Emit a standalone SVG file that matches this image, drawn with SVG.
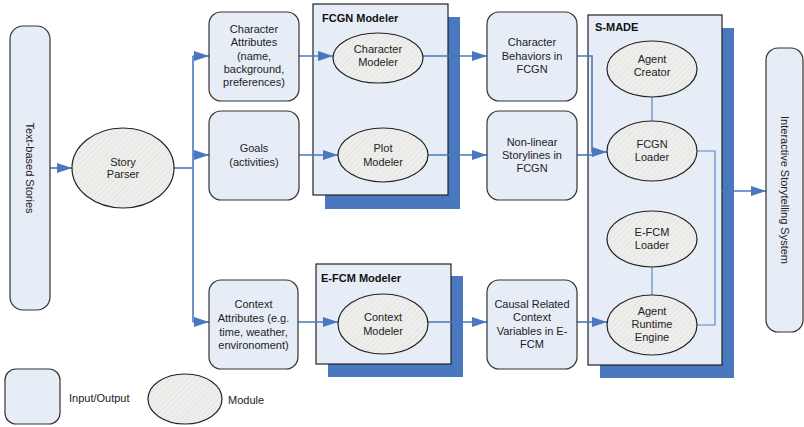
<svg xmlns="http://www.w3.org/2000/svg" width="804" height="427" viewBox="0 0 804 427">
  <style>
    .io { fill: #e7edf7; stroke: #333; stroke-width: 1.2; }
    .mod { fill: url(#hatch); stroke: #222; stroke-width: 1.2; }
    .grp { fill: #e7edf7; stroke: #222; stroke-width: 1.2; }
    .shadow { fill: #4a78bf; }
    .t { font-family: "Liberation Sans", Arial, sans-serif; font-size: 11px; fill: #222; text-anchor: middle; }
    .lbl { font-family: "Liberation Sans", Arial, sans-serif; font-size: 11px; fill: #222; }
    .title { font-family: "Liberation Sans", Arial, sans-serif; font-size: 11px; font-weight: bold; fill: #111; }
    .c { fill: none; stroke: #4a78bf; stroke-width: 1.6; }
    .thin { fill: none; stroke: #5a86c6; stroke-width: 1.2; }
  </style>
  <defs>
    <pattern id="hatch" width="4" height="4" patternUnits="userSpaceOnUse" patternTransform="rotate(45)">
      <rect width="4" height="4" fill="#eeeeee"/>
      <line x1="0" y1="0" x2="0" y2="4" stroke="#e0e0d2" stroke-width="1.2"/>
    </pattern>
    <marker id="arr" markerWidth="15" markerHeight="10" refX="15" refY="5" orient="auto" markerUnits="userSpaceOnUse">
      <path d="M0,0 L15,5 L0,10 Z" fill="#4a78bf"/>
    </marker>
  </defs>

  <!-- group shadows and containers -->
  <g id="fcgn-modeler">
    <rect class="shadow" x="325" y="17" width="135" height="192"/>
    <rect class="grp" x="313" y="4" width="135" height="191"/>
    <text class="title" x="322" y="22">FCGN Modeler</text>
  </g>
  <g id="efcm-modeler">
    <rect class="shadow" x="328" y="276" width="135" height="101"/>
    <rect class="grp" x="316" y="264" width="135" height="100"/>
    <text class="title" x="321" y="282">E-FCM Modeler</text>
  </g>
  <g id="s-made">
    <rect class="shadow" x="600" y="28" width="134" height="350"/>
    <rect class="grp" x="588" y="15" width="134" height="350"/>
    <text class="title" x="595" y="31">S-MADE</text>
  </g>

  <!-- connectors -->
  <g id="connectors">
    <path class="c" d="M50,168 H72" marker-end="url(#arr)"/>
    <path class="c" d="M174,168 H193"/>
    <path class="c" d="M193,56 V322"/>
    <path class="c" d="M193,56 H209" marker-end="url(#arr)"/>
    <path class="c" d="M193,155 H209" marker-end="url(#arr)"/>
    <path class="c" d="M193,322 H209" marker-end="url(#arr)"/>
    <path class="c" d="M299,56 H333" marker-end="url(#arr)"/>
    <path class="c" d="M299,155 H338" marker-end="url(#arr)"/>
    <path class="c" d="M298,322 H338" marker-end="url(#arr)"/>
    <path class="c" d="M423,56 H487" marker-end="url(#arr)"/>
    <path class="c" d="M428,155 H487" marker-end="url(#arr)"/>
    <path class="c" d="M428,322 H487" marker-end="url(#arr)"/>
    <path class="c" d="M577,56 H592 V152 H607" marker-end="url(#arr)"/>
    <path class="c" d="M577,155 H592"/>
    <path class="c" d="M577,322 H607" marker-end="url(#arr)"/>
    <path class="thin" d="M652,97 V121"/>
    <path class="thin" d="M652,267 V295"/>
    <path class="thin" d="M697,151 H715 V325 H697"/>
    <path class="c" d="M722,191 H766" marker-end="url(#arr)"/>
  </g>

  <!-- nodes -->
  <g id="text-based-stories">
    <rect class="io" x="10" y="26" width="40" height="284" rx="13"/>
    <text class="t" transform="translate(30,168) rotate(90)" y="4">Text-based Stories</text>
  </g>
  <g id="story-parser">
    <ellipse class="mod" cx="123" cy="168" rx="51" ry="40"/>
    <text class="t" x="123" y="166">Story</text>
    <text class="t" x="123" y="178">Parser</text>
  </g>
  <g id="character-attributes">
    <rect class="io" x="209" y="12" width="90" height="89" rx="12"/>
    <text class="t" x="254" y="33">Character</text>
    <text class="t" x="254" y="46">Attributes</text>
    <text class="t" x="254" y="60">(name,</text>
    <text class="t" x="254" y="73">background,</text>
    <text class="t" x="254" y="86">preferences)</text>
  </g>
  <g id="goals">
    <rect class="io" x="209" y="111" width="90" height="89" rx="12"/>
    <text class="t" x="254" y="152">Goals</text>
    <text class="t" x="254" y="166">(activities)</text>
  </g>
  <g id="context-attributes">
    <rect class="io" x="209" y="280" width="89" height="89" rx="12"/>
    <text class="t" x="253.5" y="308">Context</text>
    <text class="t" x="253.5" y="322">Attributes (e.g.</text>
    <text class="t" x="253.5" y="336">time, weather,</text>
    <text class="t" x="253.5" y="349">environoment)</text>
  </g>
  <g id="character-modeler">
    <ellipse class="mod" cx="378" cy="58" rx="45" ry="25"/>
    <text class="t" x="378" y="53">Character</text>
    <text class="t" x="378" y="66">Modeler</text>
  </g>
  <g id="plot-modeler">
    <ellipse class="mod" cx="383" cy="155" rx="45" ry="27"/>
    <text class="t" x="383" y="152">Plot</text>
    <text class="t" x="383" y="166">Modeler</text>
  </g>
  <g id="context-modeler">
    <ellipse class="mod" cx="383" cy="324" rx="45" ry="30"/>
    <text class="t" x="383" y="321">Context</text>
    <text class="t" x="383" y="335">Modeler</text>
  </g>
  <g id="character-behaviors">
    <rect class="io" x="487" y="12" width="90" height="89" rx="12"/>
    <text class="t" x="532" y="46">Character</text>
    <text class="t" x="532" y="60">Behaviors in</text>
    <text class="t" x="532" y="73">FCGN</text>
  </g>
  <g id="nonlinear-storylines">
    <rect class="io" x="487" y="111" width="90" height="89" rx="12"/>
    <text class="t" x="532" y="146">Non-linear</text>
    <text class="t" x="532" y="159">Storylines in</text>
    <text class="t" x="532" y="172">FCGN</text>
  </g>
  <g id="causal-context">
    <rect class="io" x="487" y="280" width="90" height="89" rx="12"/>
    <text class="t" x="532" y="308">Causal Related</text>
    <text class="t" x="532" y="321">Context</text>
    <text class="t" x="532" y="335">Variables in E-</text>
    <text class="t" x="532" y="348">FCM</text>
  </g>
  <g id="agent-creator">
    <ellipse class="mod" cx="652" cy="69" rx="45" ry="28"/>
    <text class="t" x="652" y="63">Agent</text>
    <text class="t" x="652" y="76">Creator</text>
  </g>
  <g id="fcgn-loader">
    <ellipse class="mod" cx="652" cy="151" rx="45" ry="30"/>
    <text class="t" x="652" y="148">FCGN</text>
    <text class="t" x="652" y="161">Loader</text>
  </g>
  <g id="efcm-loader">
    <ellipse class="mod" cx="652" cy="239" rx="45" ry="28"/>
    <text class="t" x="652" y="236">E-FCM</text>
    <text class="t" x="652" y="249">Loader</text>
  </g>
  <g id="agent-runtime-engine">
    <ellipse class="mod" cx="652" cy="325" rx="45" ry="30"/>
    <text class="t" x="652" y="315">Agent</text>
    <text class="t" x="652" y="328">Runtime</text>
    <text class="t" x="652" y="341">Engine</text>
  </g>
  <g id="interactive-storytelling-system">
    <rect class="io" x="766" y="48" width="37" height="284" rx="12"/>
    <text class="t" transform="translate(784.5,190) rotate(90)" y="4">Interactive Storytelling System</text>
  </g>

  <!-- legend -->
  <g id="legend-io">
    <rect class="io" x="5" y="369" width="55" height="55" rx="11"/>
    <text class="lbl" x="69" y="402">Input/Output</text>
  </g>
  <g id="legend-module">
    <ellipse class="mod" cx="185" cy="399" rx="37" ry="25"/>
    <text class="lbl" x="228" y="404">Module</text>
  </g>
</svg>
